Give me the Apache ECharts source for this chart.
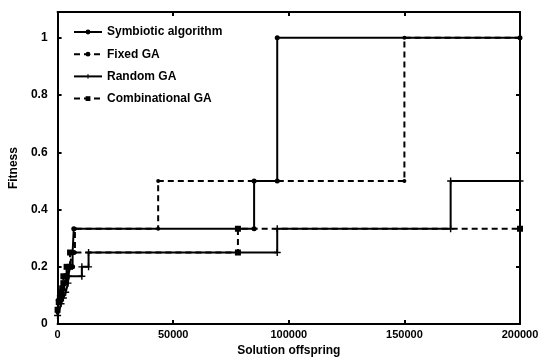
<!DOCTYPE html>
<html>
<head>
<meta charset="utf-8">
<script src="https://cdn.jsdelivr.net/npm/echarts@6/dist/echarts.min.js"></script>
<style>
  html, body { margin: 0; padding: 0; background: #fff; }
  #chart { width: 553px; height: 362px; }
</style>
</head>
<body>
<div id="chart"></div>
<script>
// step points (corners included)
const symbioticX = [0, 300, 800, 1200, 2000, 3000, 4000, 5000, 6500, 6500, 7000, 7000, 85000, 85000, 95000, 95000, 200000]
const symbioticY = [0.05, 0.083, 0.1, 0.111, 0.125, 0.143, 0.167, 0.2, 0.2, 0.25, 0.25, 0.333, 0.333, 0.5, 0.5, 1, 1]

const fixedX = [0, 700, 1500, 2500, 3500, 4500, 5500, 6000, 6000, 7500, 7500, 43500, 43500, 150000, 150000, 200000]
const fixedY = [0.04, 0.077, 0.1, 0.125, 0.143, 0.167, 0.2, 0.2, 0.25, 0.25, 0.333, 0.333, 0.5, 0.5, 1, 1]

const randomX = [0, 1500, 2500, 3500, 4500, 4700, 10500, 10500, 13400, 13400, 95000, 95000, 170000, 170000, 200000]
const randomY = [0.03, 0.071, 0.091, 0.111, 0.143, 0.167, 0.167, 0.2, 0.2, 0.25, 0.25, 0.333, 0.333, 0.5, 0.5]

const combX = [0, 500, 1000, 1500, 2000, 2500, 2500, 3900, 3900, 5400, 5400, 78000, 78000, 200000]
const combY = [0.05, 0.077, 0.091, 0.111, 0.125, 0.143, 0.167, 0.167, 0.2, 0.2, 0.25, 0.25, 0.333, 0.333]

const xTicks = [0, 50000, 100000, 150000, 200000]
const yTicks = [0, 0.2, 0.4, 0.6, 0.8, 1]

const pairs = (xs, ys) => xs.map((x, i) => [x, ys[i]])

const FONT = 'Liberation Sans'
const plus = 'path://M4,0H6V4H10V6H6V10H4V6H0V4H4Z'

const chart = echarts.init(document.getElementById('chart'))

const baseX = {
  type: 'value', min: 0, max: xTicks[xTicks.length - 1], interval: 50000,
  splitLine: { show: false },
  axisLine: { onZero: false, lineStyle: { color: '#000', width: 2 } },
  axisTick: { inside: true, length: 4, lineStyle: { color: '#000', width: 2 } }
}
const baseY = {
  type: 'value', min: 0, max: 1.09, interval: 0.2,
  splitLine: { show: false },
  axisLine: { onZero: false, lineStyle: { color: '#000', width: 2 } },
  axisTick: { inside: true, length: 4, lineStyle: { color: '#000', width: 2 } }
}

const line = (name, xs, ys, dashed, symbol, size) => ({
  name, type: 'line', xAxisIndex: 0, yAxisIndex: 0,
  data: pairs(xs, ys),
  symbol, symbolSize: size, showSymbol: true,
  itemStyle: { color: '#000' },
  lineStyle: { color: '#000', width: 2, type: dashed ? [6, 4] : 'solid' },
  animation: false
})

chart.setOption({
  animation: false,
  textStyle: { fontFamily: FONT },
  grid: { left: 55, right: 33, top: 12, bottom: 37 },
  legend: {
    orient: 'vertical', left: 68, top: 21,
    itemWidth: 28, itemHeight: 6, itemGap: 10.2,
    textStyle: { fontFamily: FONT, fontSize: 12, fontWeight: 'bold', color: '#000' },
    data: ['Symbiotic algorithm', 'Fixed GA', 'Random GA', 'Combinational GA']
  },
  xAxis: [
    Object.assign({}, baseX, {
      position: 'bottom',
      name: 'Solution offspring', nameLocation: 'middle', nameGap: 20,
      nameTextStyle: { fontFamily: FONT, fontSize: 12, fontWeight: 'bold', color: '#000' },
      axisLabel: { color: '#000', fontSize: 11, fontWeight: 'bold', margin: 5, fontFamily: FONT, formatter: v => String(v) }
    }),
    Object.assign({}, baseX, { position: 'top', axisLabel: { show: false } })
  ],
  yAxis: [
    Object.assign({}, baseY, {
      position: 'left',
      name: 'Fitness', nameLocation: 'middle', nameGap: 25,
      nameTextStyle: { fontFamily: FONT, fontSize: 12, fontWeight: 'bold', color: '#000' },
      axisLabel: {
        color: '#000', fontSize: 12, fontWeight: 'bold', margin: 10, fontFamily: FONT,
        formatter: v => (yTicks.some(t => Math.abs(t - v) < 1e-6) ? String(+v.toFixed(1)) : '')
      }
    }),
    Object.assign({}, baseY, { position: 'right', axisLabel: { show: false } })
  ],
  series: [
    line('Symbiotic algorithm', symbioticX, symbioticY, false, 'circle', 5),
    line('Fixed GA', fixedX, fixedY, true, 'circle', 4),
    line('Random GA', randomX, randomY, false, plus, 7),
    line('Combinational GA', combX, combY, true, 'rect', 6)
  ]
})
</script>
</body>
</html>
